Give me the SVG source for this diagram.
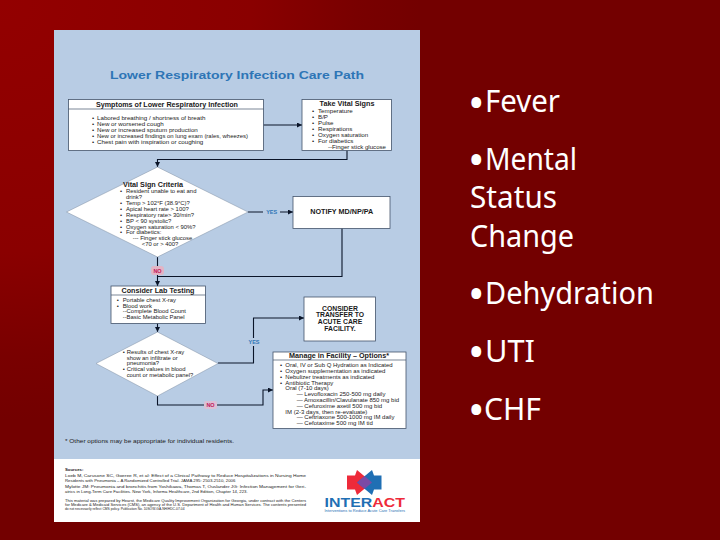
<svg xmlns="http://www.w3.org/2000/svg" width="720" height="540" viewBox="0 0 720 540">
<style>
text{font-family:"Liberation Sans",Arial,sans-serif;fill:#1a1a1a}
.box{fill:#fff;stroke:#44546a;stroke-width:.8}
.dia{fill:#fff;stroke:#7f8ea3;stroke-width:.5}
.hr{stroke:#44546a;stroke-width:.7}
.h{font-weight:bold;font-size:7px;text-anchor:middle}
.t{font-size:5.9px}
.s{font-size:6.2px}
.m{font-size:6px}
.b{font-weight:bold;font-size:6.4px;text-anchor:middle}
.tr{font-weight:bold;font-size:6.8px;text-anchor:middle}
.src{font-size:4.3px}
.sm{font-size:3.3px}
.yes{font-size:5.5px;font-weight:bold;fill:#2e75b6;text-anchor:middle}
.no{font-size:5.5px;font-weight:bold;fill:#c2185b;text-anchor:middle}
.big{font-family:"Noto Sans","DejaVu Sans",sans-serif;font-size:30px;fill:#fff}
.dot{font-family:"Noto Sans","DejaVu Sans",sans-serif;font-size:44px;fill:#fff}
.c{fill:none;stroke:#0a1428;stroke-width:1.1}
</style>
<defs>
<radialGradient id="bg" gradientUnits="userSpaceOnUse" cx="0" cy="0" r="420">
<stop offset="0" stop-color="#930000"/><stop offset=".6" stop-color="#8a0000"/><stop offset=".85" stop-color="#790000"/><stop offset="1" stop-color="#730000"/>
</radialGradient>
<marker id="a" markerWidth="5" markerHeight="5" refX="5" refY="2.500" orient="auto" markerUnits="userSpaceOnUse"><path d="M0 0L5 2.500L0 5Z" fill="#0a1428"/></marker>
</defs>
<rect width="720" height="540" fill="url(#bg)"/>
<rect x="54" y="30" width="366" height="492" fill="#b8cce4"/>
<rect x="54" y="459" width="366" height="63" fill="#fff"/>
<text x="237" y="78.500" text-anchor="middle" font-size="11.500" font-weight="bold" style="fill:#2e75b6" textLength="254" lengthAdjust="spacingAndGlyphs">Lower Respiratory Infection Care Path</text>

<g id="connectors">
<path class="c" d="M263 125H302" marker-end="url(#a)"/>
<path class="c" d="M347 150V159.500H157.500V167" marker-end="url(#a)"/>
<path class="c" d="M248 212H293" marker-end="url(#a)"/>
<path class="c" d="M342 228V276.500H157.500V286" marker-end="url(#a)"/>
<path class="c" d="M157.500 257V276.500"/>
<path class="c" d="M157.500 323V332" marker-end="url(#a)"/>
<path class="c" d="M218 363H253.500V318H304" marker-end="url(#a)"/>
<path class="c" d="M157.500 396V405H263V390H273" marker-end="url(#a)"/>
</g>

<g id="symptoms">
<rect class="box" x="68.500" y="99.500" width="195" height="51"/>
<line class="hr" x1="68.500" y1="109" x2="263.500" y2="109"/>
<text class="h" x="167" y="106.500" textLength="142" lengthAdjust="spacingAndGlyphs">Symptoms of Lower Respiratory Infection</text>
<text class="s" x="92" y="120.200">•</text><text class="s" x="97" y="120.200">Labored breathing / shortness of breath</text>
<text class="s" x="92" y="126">•</text><text class="s" x="97" y="126">New or worsened cough</text>
<text class="s" x="92" y="132">•</text><text class="s" x="97" y="132">New or increased sputum production</text>
<text class="s" x="92" y="137.700">•</text><text class="s" x="97" y="137.700" textLength="151" lengthAdjust="spacingAndGlyphs">New or increased findings on lung exam (rales, wheezes)</text>
<text class="s" x="92" y="143.700">•</text><text class="s" x="97" y="143.700">Chest pain with inspiration  or coughing</text>
</g>

<g id="vitals">
<rect class="box" x="302" y="99.500" width="89.500" height="51"/>
<text class="h" x="347" y="105.500" textLength="55" lengthAdjust="spacingAndGlyphs">Take Vital Signs</text>
<text class="s" x="312" y="113">•</text><text class="s" x="318" y="113">Temperature</text>
<text class="s" x="312" y="119">•</text><text class="s" x="318" y="119">B/P</text>
<text class="s" x="312" y="125">•</text><text class="s" x="318" y="125">Pulse</text>
<text class="s" x="312" y="131">•</text><text class="s" x="318" y="131">Respirations</text>
<text class="s" x="312" y="137">•</text><text class="s" x="318" y="137">Oxygen saturation</text>
<text class="s" x="312" y="142.500">•</text><text class="s" x="318" y="142.500">For diabetics</text>
<text class="t" x="328" y="148.500" textLength="58" lengthAdjust="spacingAndGlyphs">--Finger stick glucose</text>
</g>

<g id="criteria">
<polygon class="dia" points="157.500,167 248,212 157.500,257 66.500,212"/>
<text class="h" x="153" y="187.300" textLength="60" lengthAdjust="spacingAndGlyphs">Vital Sign Criteria</text>
<text class="t" x="120" y="192.700">•</text><text class="t" x="126" y="192.700">Resident unable to eat and</text>
<text class="t" x="126" y="198.700">drink?</text>
<text class="t" x="120" y="204.700">•</text><text class="t" x="126" y="204.700">Temp &gt; 102°F (38.9°C)?</text>
<text class="t" x="120" y="210.700">•</text><text class="t" x="126" y="210.700">Apical heart rate &gt; 100?</text>
<text class="t" x="120" y="216.700">•</text><text class="t" x="126" y="216.700">Respiratory rate&gt; 30/min?</text>
<text class="t" x="120" y="222.700">•</text><text class="t" x="126" y="222.700">BP &lt; 90 systolic?</text>
<text class="t" x="120" y="228.700">•</text><text class="t" x="126" y="228.700">Oxygen saturation &lt; 90%?</text>
<text class="t" x="120" y="234.300">•</text><text class="t" x="126" y="234.300">For diabetics:</text>
<text class="t" x="132.700" y="239.700">--- Finger stick glucose</text>
<text class="t" x="141.700" y="245.700">&lt;70 or &gt; 400?</text>
</g>

<g id="notify">
<rect class="box" x="293" y="196.500" width="97" height="32"/>
<text class="b" x="341.700" y="214" textLength="63" lengthAdjust="spacingAndGlyphs">NOTIFY MD/NP/PA</text>
</g>
<g id="label-yes-1"><rect x="263" y="207" width="17" height="10" fill="#b8cce4"/><text class="yes" x="271.700" y="214">YES</text></g>
<g id="label-no-1"><rect x="151" y="266" width="13" height="9" rx="3" fill="#e3b4c4"/><text class="no" x="157.500" y="272.500">NO</text></g>

<g id="lab">
<rect class="box" x="111" y="286" width="94.500" height="37.500"/>
<line class="hr" x1="111" y1="295" x2="205.500" y2="295"/>
<text class="h" x="158" y="292.500" textLength="73" lengthAdjust="spacingAndGlyphs">Consider Lab Testing</text>
<text class="t" x="116.700" y="301.700">•</text><text class="t" x="122.700" y="301.700">Portable chest X-ray</text>
<text class="t" x="116.700" y="307.500">•</text><text class="t" x="122.700" y="307.500">Blood work</text>
<text class="t" x="122.700" y="313.200">--Complete Blood Count</text>
<text class="t" x="122.700" y="319">--Basic Metabolic Panel</text>
</g>

<g id="results">
<polygon class="dia" points="157.500,332 218,363.500 157.500,396 96,363.500"/>
<text class="t" x="122.700" y="353.700">•</text><text class="t" x="126.700" y="353.700">Results of chest X-ray</text>
<text class="t" x="126.700" y="359.700">show an infiltrate or</text>
<text class="t" x="126.700" y="365.300">pneumonia?</text>
<text class="t" x="122.700" y="371.300">•</text><text class="t" x="126.700" y="371.300">Critical values in blood</text>
<text class="t" x="126.700" y="377" textLength="66.500" lengthAdjust="spacingAndGlyphs">count or metabolic panel?</text>
</g>

<g id="transfer">
<rect class="box" x="304" y="297" width="71.500" height="44"/>
<text class="tr" x="340" y="310.500">CONSIDER</text>
<text class="tr" x="340" y="317.300">TRANSFER TO</text>
<text class="tr" x="340" y="324">ACUTE CARE</text>
<text class="tr" x="340" y="331.300">FACILITY.</text>
</g>
<g id="label-yes-2"><rect x="246" y="338" width="15" height="8" fill="#b8cce4"/><text class="yes" x="254" y="344">YES</text></g>
<g id="label-no-2"><rect x="204" y="401" width="13" height="8" rx="2" fill="#dcc0d4"/><text class="no" x="210.500" y="407.200">NO</text></g>

<g id="manage">
<rect class="box" x="273" y="352" width="133" height="76.500"/>
<line class="hr" x1="273" y1="360" x2="406" y2="360"/>
<text class="h" x="339" y="358.200" textLength="100" lengthAdjust="spacingAndGlyphs">Manage in Facility – Options*</text>
<text class="m" x="280" y="367">•</text><text class="m" x="285.300" y="367">Oral, IV or Sub Q Hydration as Indicated</text>
<text class="m" x="280" y="373">•</text><text class="m" x="285.300" y="373">Oxygen supplementation as indicated</text>
<text class="m" x="280" y="378.700">•</text><text class="m" x="285.300" y="378.700">Nebulizer treatments as indicated</text>
<text class="m" x="280" y="384.700">•</text><text class="m" x="285.300" y="384.700">Antibiotic Therapy</text>
<text class="m" x="285.300" y="390.300">Oral (7-10 days)</text>
<text class="m" x="296.700" y="396">— Levofloxacin 250-500 mg daily</text>
<text class="m" x="296.700" y="402">— Amoxacillin/Clavulanate 850 mg bid</text>
<text class="m" x="296.700" y="408">— Cefuroxime axetil 500 mg bid</text>
<text class="m" x="285.300" y="413.700">IM (2-3 days, then re-evaluate)</text>
<text class="m" x="296.700" y="419.300">— Ceftriaxone 500-1000 mg IM daily</text>
<text class="m" x="296.700" y="425.300">— Cefotaxime 500 mg IM tid</text>
</g>

<text class="t" x="65" y="443" textLength="169" lengthAdjust="spacingAndGlyphs">* Other options may be appropriate for individual residents.</text>

<g id="sources">
<text class="src" x="65" y="470.500" font-weight="bold">Sources:</text>
<text class="src" x="65" y="476.500" textLength="241" lengthAdjust="spacingAndGlyphs">Loeb M, Carusone SC, Goeree R, et al: Effect of a Clinical Pathway to Reduce Hospitalizations in Nursing Home</text>
<text class="src" x="65" y="481.500">Residents with Pneumonia – A Randomized Controlled Trial. JAMA 295: 2503-2510, 2006</text>
<text class="src" x="65" y="488.200" textLength="241" lengthAdjust="spacingAndGlyphs">Mylotte JM: Pneumonia and bronchitis from Yoshikawa, Thomas T, Ouslander JG: Infection Management for Geri-</text>
<text class="src" x="65" y="493.200">atrics in Long-Term Care Facilities. New York, Informa Healthcare, 2nd Edition, Chapter 14, 223.</text>
<text class="sm" x="65" y="501.800" textLength="241" lengthAdjust="spacingAndGlyphs">This material was prepared by Hearst, the Medicare Quality Improvement Organization for Georgia, under contract with the Centers</text>
<text class="sm" x="65" y="506" textLength="241" lengthAdjust="spacingAndGlyphs">for Medicare &amp; Medicaid Services (CMS), an agency of the U.S. Department of Health and Human Services. The contents presented</text>
<text class="sm" x="65" y="510.200">do not necessarily reflect CMS policy. Publication No. 10SOW-GA-NH/HDC-07-04</text>
</g>

<g id="logo">
<polygon points="347,475.500 355,475.500 357,470 372,482.500 357,495 355,489.500 347,489.500" fill="#ee2a3a"/>
<polygon points="381.500,475.500 374,475.500 372,470 357,482.500 372,495 374,489.500 381.500,489.500" fill="#1f6fb4"/>
<polygon points="364.500,476 372,482.500 364.500,489 357,482.500" fill="#7b4aa5"/>
<text x="324.500" y="507.300" font-size="13.500" font-weight="bold" textLength="80.500" lengthAdjust="spacingAndGlyphs" style="fill:#1f6fb4">INTER<tspan style="fill:#ee2a3a">ACT</tspan></text>
<text x="324.500" y="512.300" font-size="3.300" textLength="80.500" lengthAdjust="spacingAndGlyphs" style="fill:#1f6fb4">Interventions to Reduce Acute Care Transfers</text>
</g>

<g id="bullets">
<text class="dot" x="468" y="118.700">•</text><text class="big" x="485" y="112" textLength="75" lengthAdjust="spacingAndGlyphs">Fever</text>
<text class="dot" x="468" y="176">•</text><text class="big" x="485" y="170" textLength="92" lengthAdjust="spacingAndGlyphs">Mental</text>
<text class="big" x="470" y="208" textLength="87" lengthAdjust="spacingAndGlyphs">Status</text>
<text class="big" x="470" y="246.700" textLength="104" lengthAdjust="spacingAndGlyphs">Change</text>
<text class="dot" x="468" y="310">•</text><text class="big" x="485" y="304" textLength="169" lengthAdjust="spacingAndGlyphs">Dehydration</text>
<text class="dot" x="468" y="367.700">•</text><text class="big" x="485" y="362" textLength="50" lengthAdjust="spacingAndGlyphs">UTI</text>
<text class="dot" x="468" y="426">•</text><text class="big" x="484" y="420" textLength="57" lengthAdjust="spacingAndGlyphs">CHF</text>
</g>
</svg>
